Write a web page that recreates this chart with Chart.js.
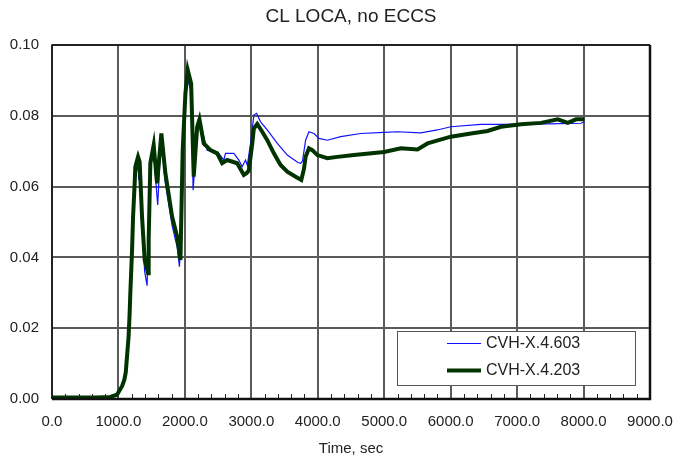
<!DOCTYPE html>
<html>
<head>
<meta charset="utf-8">
<script src="https://cdn.jsdelivr.net/npm/chart.js@4.4.1/dist/chart.umd.min.js"></script>
<style>
  html, body { margin: 0; padding: 0; background: #fff; }
  #wrap { width: 681px; height: 461px; }
</style>
</head>
<body>
<div id="wrap"><canvas id="loca-chart" width="681" height="461"></canvas></div>
<script>
const chartTitle = 'CL LOCA, no ECCS';
const xTitle = 'Time, sec';
const xTicks = [0, 1000, 2000, 3000, 4000, 5000, 6000, 7000, 8000, 9000];
const yTicks = [0, 0.02, 0.04, 0.06, 0.08, 0.10];

const label603 = 'CVH-X.4.603';
const time603 = [0, 650, 877, 978, 1054, 1088, 1110, 1129, 1153, 1168, 1179, 1205, 1220, 1244, 1270, 1295, 1304, 1320, 1355, 1395, 1431, 1455, 1480, 1530, 1560, 1591, 1620, 1646, 1706, 1808, 1883, 1918, 1940, 1967, 2008, 2043, 2094, 2124, 2150, 2185, 2234, 2284, 2335, 2435, 2500, 2586, 2611, 2737, 2812, 2862, 2913, 2940, 2988, 3038, 3079, 3139, 3240, 3391, 3541, 3700, 3742, 3770, 3817, 3867, 3943, 4018, 4144, 4345, 4647, 4998, 5200, 5551, 5800, 6003, 6455, 6757, 7461, 7963, 8013];
const val603 = [0.0003, 0.0003, 0.0006, 0.0012, 0.0036, 0.0054, 0.0075, 0.012, 0.0177, 0.0240, 0.0300, 0.0421, 0.0515, 0.060, 0.064, 0.066, 0.0619, 0.064, 0.048, 0.036, 0.032, 0.050, 0.065, 0.070, 0.062, 0.0548, 0.066, 0.074, 0.061, 0.049, 0.043, 0.0374, 0.045, 0.069, 0.085, 0.090, 0.087, 0.059, 0.066, 0.075, 0.0783, 0.0741, 0.0703, 0.0698, 0.0696, 0.0675, 0.0694, 0.0694, 0.0675, 0.0656, 0.0675, 0.066, 0.0722, 0.0802, 0.0807, 0.0783, 0.0760, 0.0722, 0.0689, 0.0668, 0.0666, 0.0672, 0.0731, 0.0755, 0.0750, 0.0736, 0.0731, 0.0741, 0.0750, 0.0753, 0.0755, 0.0752, 0.0760, 0.0769, 0.0776, 0.0776, 0.0777, 0.0779, 0.0783];

const label203 = 'CVH-X.4.203';
const time203 = [0, 650, 877, 978, 1054, 1088, 1110, 1129, 1153, 1168, 1179, 1205, 1220, 1244, 1254, 1295, 1319, 1355, 1395, 1446, 1455, 1480, 1530, 1581, 1646, 1706, 1808, 1883, 1933, 1967, 2008, 2043, 2094, 2133, 2185, 2219, 2284, 2385, 2486, 2561, 2637, 2787, 2887, 2928, 2962, 3014, 3038, 3089, 3164, 3240, 3339, 3440, 3541, 3667, 3752, 3792, 3817, 3867, 3918, 3994, 4144, 4295, 4545, 4998, 5250, 5501, 5652, 6003, 6305, 6556, 6757, 7059, 7360, 7612, 7763, 7888, 8013];
const val203 = [0.0004, 0.0004, 0.0006, 0.0012, 0.0036, 0.0054, 0.0075, 0.012, 0.0177, 0.0240, 0.0300, 0.0421, 0.0515, 0.0609, 0.0656, 0.0684, 0.0670, 0.0515, 0.0393, 0.0355, 0.045, 0.0666, 0.0717, 0.0609, 0.0750, 0.0638, 0.0515, 0.0459, 0.0393, 0.0703, 0.0863, 0.0929, 0.0891, 0.0628, 0.0769, 0.0790, 0.0722, 0.0703, 0.0694, 0.0666, 0.0675, 0.0666, 0.0633, 0.0638, 0.0645, 0.0722, 0.0764, 0.0777, 0.0755, 0.0731, 0.0694, 0.0661, 0.0642, 0.0628, 0.0619, 0.0650, 0.0684, 0.0708, 0.0703, 0.0689, 0.0680, 0.0684, 0.0689, 0.0698, 0.0708, 0.0705, 0.0722, 0.0741, 0.0750, 0.0757, 0.0769, 0.0776, 0.0780, 0.0790, 0.0780, 0.0790, 0.0790];

const toPoints = (xs, ys) => xs.map((x, i) => ({ x: x, y: ys[i] }));

const fontFamily = '"Liberation Sans", Arial, sans-serif';

// title centred over the plot area, not the canvas
const plotTitle = {
  id: 'plotTitle',
  afterDraw(chart, args, options) {
    const { ctx, chartArea: { left, right } } = chart;
    ctx.save();
    ctx.fillStyle = '#222';
    ctx.font = '19px ' + fontFamily;
    ctx.textAlign = 'center';
    ctx.textBaseline = 'middle';
    ctx.fillText(options.text, (left + right) / 2, 17);
    ctx.restore();
  },
};

// plot frame + small inward ticks on the time axis
const plotFrame = {
  id: 'plotFrame',
  afterDatasetsDraw(chart) {
    const { ctx, chartArea: { left, top, right, bottom } } = chart;
    const xs = chart.scales.x;
    ctx.save();
    ctx.strokeStyle = '#222';
    ctx.lineWidth = 1;
    for (let v = 0; v <= 9000; v += 200) {
      if (v % 1000 === 0) continue;
      const px = Math.round(xs.getPixelForValue(v)) + 0.5;
      ctx.beginPath();
      ctx.moveTo(px, bottom);
      ctx.lineTo(px, bottom - 5);
      ctx.stroke();
    }
    ctx.strokeStyle = '#111';
    ctx.lineWidth = 1.5;
    ctx.beginPath();
    ctx.moveTo(left, bottom);
    ctx.lineTo(left, top);
    ctx.lineTo(right, top);
    ctx.stroke();
    ctx.lineWidth = 2.5;
    ctx.beginPath();
    ctx.moveTo(left, bottom);
    ctx.lineTo(right, bottom);
    ctx.lineTo(right, top);
    ctx.stroke();
    ctx.restore();
  },
};

// legend box inside the plot, lower right
const boxLegend = {
  id: 'boxLegend',
  afterDraw(chart) {
    const { ctx } = chart;
    const bx = 397, by = 331, bw = 238, bh = 54;
    ctx.save();
    ctx.fillStyle = '#fff';
    ctx.fillRect(bx, by, bw, bh);
    ctx.strokeStyle = '#555';
    ctx.lineWidth = 1;
    ctx.strokeRect(bx + 0.5, by + 0.5, bw, bh);
    const rows = [chart.data.datasets[1], chart.data.datasets[0]];
    rows.forEach((ds, i) => {
      const ly = by + 12.5 + i * 27;
      ctx.strokeStyle = ds.borderColor;
      ctx.lineWidth = ds.borderWidth;
      ctx.beginPath();
      ctx.moveTo(447, ly);
      ctx.lineTo(481, ly);
      ctx.stroke();
      ctx.fillStyle = '#222';
      ctx.font = '16px ' + fontFamily;
      ctx.textBaseline = 'middle';
      ctx.textAlign = 'left';
      ctx.fillText(ds.label, 486, ly);
    });
    ctx.restore();
  },
};

const config = {
  type: 'line',
  data: {
    datasets: [
      {
        label: label203,
        data: toPoints(time203, val203),
        borderColor: '#013301',
        borderWidth: 4,
        pointRadius: 0,
        tension: 0,
        order: 0,
      },
      {
        label: label603,
        data: toPoints(time603, val603),
        borderColor: '#1010ff',
        borderWidth: 1.2,
        pointRadius: 0,
        tension: 0,
        order: 1,
      },
    ],
  },
  options: {
    responsive: false,
    animation: false,
    layout: { padding: { left: 0, right: 31, top: 45, bottom: 0 } },
    plugins: {
      legend: { display: false },
      tooltip: { enabled: false },
      title: { display: false },
      plotTitle: { text: chartTitle },
    },
    scales: {
      x: {
        type: 'linear',
        min: 0,
        max: 9000,
        afterBuildTicks: (scale) => { scale.ticks = xTicks.map((v) => ({ value: v })); },
        afterFit: (scale) => {
          scale.height = 62;
          scale.paddingLeft = 0;
          scale.paddingRight = 0;
        },
        ticks: {
          color: '#222',
          padding: 14,
          maxRotation: 0,
          font: { family: fontFamily, size: 15 },
          callback: (v) => Number(v).toFixed(1),
        },
        grid: { color: '#5a5a5a', lineWidth: 2, drawTicks: false },
        border: { display: false },
        title: {
          display: true,
          text: xTitle,
          color: '#222',
          font: { family: fontFamily, size: 15 },
          padding: { top: 0, bottom: 3 },
        },
      },
      y: {
        min: 0,
        max: 0.1,
        afterBuildTicks: (scale) => { scale.ticks = yTicks.map((v) => ({ value: v })); },
        afterFit: (scale) => {
          scale.width = 52;
          scale.paddingTop = 0;
          scale.paddingBottom = 0;
        },
        ticks: {
          color: '#222',
          padding: 13,
          font: { family: fontFamily, size: 15 },
          callback: (v) => Number(v).toFixed(2),
        },
        grid: { color: '#5a5a5a', lineWidth: 2, drawTicks: false },
        border: { display: false },
      },
    },
  },
  plugins: [plotFrame, boxLegend, plotTitle],
};

const ctx = document.getElementById('loca-chart').getContext('2d');
const locaChart = new Chart(ctx, config);
</script>
</body>
</html>
